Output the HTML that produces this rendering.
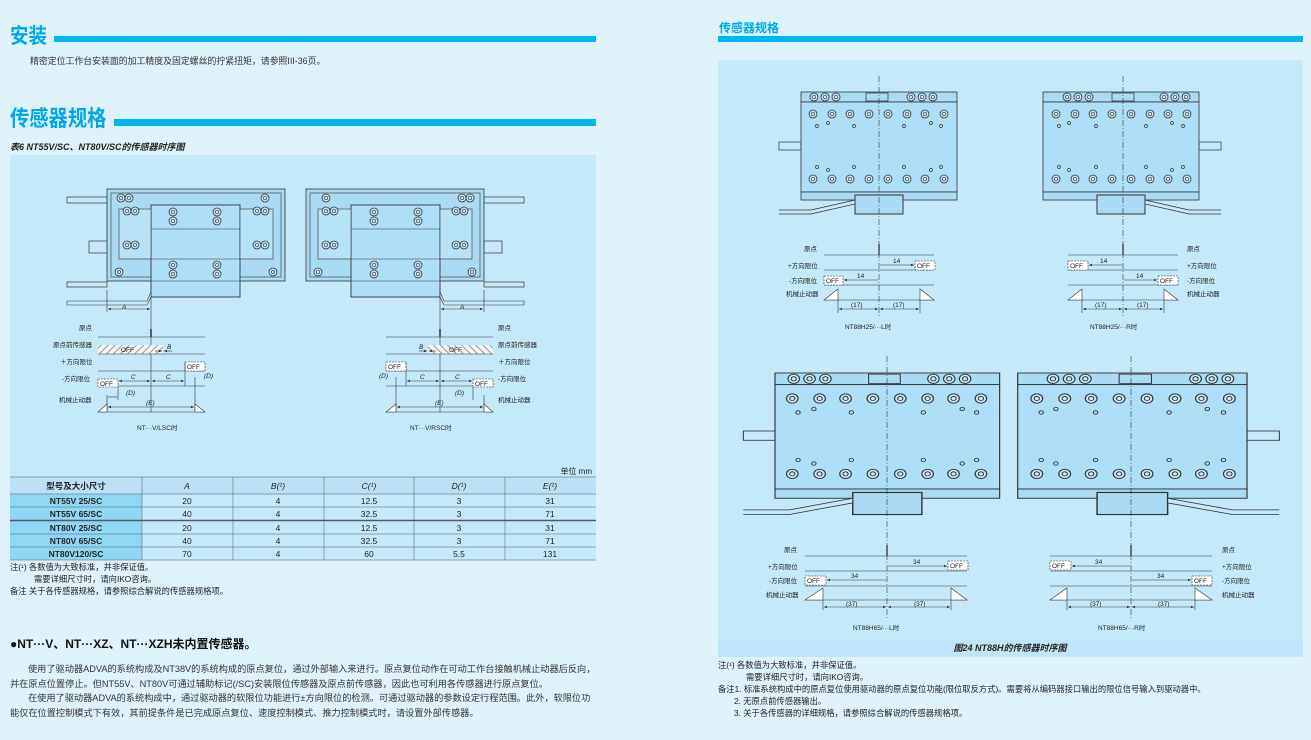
<!DOCTYPE html>
<html><head><meta charset="utf-8">
<style>
html,body{margin:0;padding:0;background:#dff2fa;}
body{width:1311px;height:740px;overflow:hidden;position:relative;font-family:"Liberation Sans","Noto Sans CJK SC",sans-serif;color:#222;}
svg{position:absolute;left:0;top:0;}
text{font-family:"Liberation Sans","Noto Sans CJK SC",sans-serif;}
</style></head><body>
<svg width="1311" height="740" viewBox="0 0 1311 740" xmlns="http://www.w3.org/2000/svg">
<defs>
<pattern id="hat" width="5" height="5" patternUnits="userSpaceOnUse" patternTransform="rotate(45)">
<rect width="5" height="5" fill="#f4f4f4"/><line x1="0" y1="0" x2="0" y2="5" stroke="#999" stroke-width="2"/></pattern>
<symbol id="hole" overflow="visible"><circle r="4" fill="#c6e8f8" stroke="#333" stroke-width="0.8"/><circle r="1.8" fill="none" stroke="#333" stroke-width="0.7"/></symbol>
<symbol id="mach" overflow="visible">
<rect x="-22" y="50" width="22" height="8" fill="#c6e8f8" stroke="#333" stroke-width="0.7"/>
<rect x="0" y="0" width="156" height="10" fill="#a9dcf3" stroke="#333" stroke-width="0.8"/>
<rect x="0" y="10" width="156" height="90" fill="#ade0f6" stroke="#333" stroke-width="0.8"/>
<rect x="0" y="100" width="156" height="8" fill="#a9dcf3" stroke="#333" stroke-width="0.8"/>
<rect x="54" y="103" width="48" height="19" fill="#a9dcf3" stroke="#333" stroke-width="1"/>
<path d="M-22 118 L10 118 L54 108 L54 112 L10 122 L-22 122" fill="#c6e8f8" stroke="#333" stroke-width="0.7"/>
<g><use href="#hole" x="13" y="5"/><use href="#hole" x="24" y="5"/><use href="#hole" x="35" y="5"/><use href="#hole" x="110" y="5"/><use href="#hole" x="121" y="5"/><use href="#hole" x="132" y="5"/></g>
<rect x="65" y="1" width="22" height="8" fill="none" stroke="#333" stroke-width="0.7"/>
<g><use href="#hole" x="12" y="22"/><use href="#hole" x="31" y="22"/><use href="#hole" x="49" y="22"/><use href="#hole" x="68" y="22"/><use href="#hole" x="87" y="22"/><use href="#hole" x="106" y="22"/><use href="#hole" x="124" y="22"/><use href="#hole" x="143" y="22"/>
<use href="#hole" x="12" y="87"/><use href="#hole" x="31" y="87"/><use href="#hole" x="49" y="87"/><use href="#hole" x="68" y="87"/><use href="#hole" x="87" y="87"/><use href="#hole" x="106" y="87"/><use href="#hole" x="124" y="87"/><use href="#hole" x="143" y="87"/></g>
<g fill="none" stroke="#333" stroke-width="0.7"><circle cx="16" cy="34" r="1.5"/><circle cx="27" cy="31" r="1.5"/><circle cx="53" cy="34" r="1.5"/><circle cx="103" cy="34" r="1.5"/><circle cx="130" cy="31" r="1.5"/><circle cx="140" cy="34" r="1.5"/>
<circle cx="16" cy="75" r="1.5"/><circle cx="27" cy="78" r="1.5"/><circle cx="53" cy="75" r="1.5"/><circle cx="103" cy="75" r="1.5"/><circle cx="130" cy="78" r="1.5"/><circle cx="140" cy="75" r="1.5"/></g>
</symbol>
<symbol id="vmach" overflow="visible">
<rect x="-40" y="8" width="40" height="6" fill="#c6e8f8" stroke="#333" stroke-width="0.7"/>
<rect x="-40" y="93" width="40" height="5" fill="#c6e8f8" stroke="#333" stroke-width="0.7"/>
<rect x="-18" y="52" width="18" height="12" fill="#c6e8f8" stroke="#333" stroke-width="0.7"/>
<rect x="0" y="0" width="178" height="92" fill="#a9dcf3" stroke="#333" stroke-width="0.8"/>
<rect x="4" y="4" width="170" height="84" fill="none" stroke="#333" stroke-width="0.6"/>
<rect x="44" y="16" width="89" height="92" fill="#ade0f6" stroke="#333" stroke-width="0.9"/>
<line x1="44" y1="40" x2="133" y2="40" stroke="#333" stroke-width="0.6"/>
<line x1="44" y1="70" x2="133" y2="70" stroke="#333" stroke-width="0.6"/>
<line x1="44" y1="92" x2="133" y2="92" stroke="#333" stroke-width="0.6"/>
<rect x="12" y="20" width="32" height="50" fill="#b8e3f6" stroke="#333" stroke-width="0.6"/>
<rect x="133" y="20" width="33" height="50" fill="#b8e3f6" stroke="#333" stroke-width="0.6"/>
<g><use href="#hole" x="14" y="9"/><use href="#hole" x="22" y="9"/><use href="#hole" x="158" y="9"/><use href="#hole" x="20" y="22"/><use href="#hole" x="28" y="22"/><use href="#hole" x="150" y="22"/><use href="#hole" x="158" y="22"/>
<use href="#hole" x="20" y="56"/><use href="#hole" x="28" y="56"/><use href="#hole" x="150" y="56"/><use href="#hole" x="158" y="56"/><use href="#hole" x="12" y="83"/><use href="#hole" x="166" y="83"/>
<use href="#hole" x="66" y="23"/><use href="#hole" x="110" y="23"/><use href="#hole" x="66" y="32"/><use href="#hole" x="110" y="32"/><use href="#hole" x="66" y="76"/><use href="#hole" x="110" y="76"/><use href="#hole" x="66" y="85"/><use href="#hole" x="110" y="85"/></g>
<path d="M-40 112 L40 112 L44 103 L44 108 L40 116 L-40 116Z" fill="#c6e8f8" stroke="#333" stroke-width="0.6"/>
</symbol>
<marker id="ar" markerWidth="6" markerHeight="6" refX="5" refY="3" orient="auto-start-reverse"><path d="M0 1 L5 3 L0 5Z" fill="#333"/></marker>
</defs>

<!-- LEFT PAGE -->
<text x="10" y="43" font-size="18.5" font-weight="bold" fill="#00a9e6" transform="translate(0,-6.5) scale(1,1.15)">安装</text>
<rect x="54" y="36" width="542" height="6" fill="#00b7ee"/>
<text x="30" y="64" font-size="8.9" fill="#333">精密定位工作台安装面的加工精度及固定螺丝的拧紧扭矩，请参照III-36页。</text>
<text x="10" y="126" font-size="19.3" font-weight="bold" fill="#00a9e6" transform="translate(0,-18.9) scale(1,1.15)">传感器规格</text>
<rect x="114" y="119" width="482" height="7" fill="#00b7ee"/>
<text x="10" y="150" font-size="9" font-weight="bold" font-style="italic" fill="#222">表6 NT55V/SC、NT80V/SC的传感器时序图</text>
<rect x="10" y="155" width="586" height="405" fill="#c6e9f9"/>

<!-- left diagram 1 -->
<use href="#vmach" x="107" y="189"/>
<g stroke="#333" stroke-width="0.6" fill="none">
<line x1="151" y1="297" x2="151" y2="412"/>
<line x1="107" y1="290" x2="107" y2="312"/>
<line x1="108" y1="309" x2="150" y2="309" marker-start="url(#ar)" marker-end="url(#ar)"/>
<line x1="98" y1="337" x2="205" y2="337"/><line x1="151" y1="329" x2="151" y2="337" stroke-width="1.5"/>
<rect x="98" y="345" width="65" height="9" fill="url(#hat)" stroke="none"/>
<line x1="98" y1="354" x2="205" y2="354"/>
<line x1="155" y1="351" x2="162" y2="351" marker-end="url(#ar)"/><line x1="172" y1="351" x2="164" y2="351" marker-end="url(#ar)"/>
<line x1="98" y1="371" x2="205" y2="371"/><rect x="185" y="362" width="20" height="9" fill="#fff" stroke-dasharray="2 1"/>
<line x1="98" y1="386" x2="205" y2="386"/><rect x="98" y="379" width="20" height="8" fill="#fff" stroke-dasharray="2 1"/>
<line x1="185" y1="362" x2="185" y2="386"/><line x1="195" y1="377" x2="195" y2="412"/>
<line x1="119" y1="381" x2="150" y2="381" marker-start="url(#ar)" marker-end="url(#ar)"/>
<line x1="152" y1="381" x2="184" y2="381" marker-start="url(#ar)" marker-end="url(#ar)"/>
<line x1="118" y1="387" x2="118" y2="400"/><line x1="107" y1="395" x2="107" y2="412"/>
<line x1="108" y1="397" x2="117" y2="397"/>
<line x1="98" y1="412" x2="205" y2="412"/>
<path d="M98 412 L107 404 L107 412Z" fill="#fff"/><path d="M205 412 L195 404 L195 412Z" fill="#fff"/>
<line x1="108" y1="407" x2="194" y2="407" marker-start="url(#ar)" marker-end="url(#ar)"/>
</g>
<g font-size="6.5" fill="#222">
<text x="122" y="309" font-style="italic">A</text>
<text x="79" y="330">原点</text><text x="53" y="347">原点前传感器</text><text x="60" y="364">＋方向限位</text><text x="62" y="381">-方向限位</text><text x="59" y="402">机械止动器</text>
<text x="121" y="352">OFF</text><text x="167" y="349" font-style="italic">B</text><text x="187" y="369">OFF</text><text x="100" y="386">OFF</text>
<text x="131" y="379" font-style="italic">C</text><text x="166" y="379" font-style="italic">C</text><text x="204" y="378" font-style="italic">(D)</text><text x="126" y="395" font-style="italic">(D)</text><text x="146" y="405" font-style="italic">(E)</text>
<text x="137" y="430">NT···V/LSC时</text>
</g>

<!-- left diagram 2 (mirrored) -->
<g transform="translate(789,0) scale(-1,1)"><use href="#vmach" x="305" y="189"/>
<g stroke="#333" stroke-width="0.6" fill="none">
<line x1="349" y1="297" x2="349" y2="412"/>
<line x1="305" y1="290" x2="305" y2="312"/>
<line x1="306" y1="309" x2="348" y2="309" marker-start="url(#ar)" marker-end="url(#ar)"/>
<line x1="296" y1="337" x2="403" y2="337"/><line x1="349" y1="329" x2="349" y2="337" stroke-width="1.5"/>
<rect x="296" y="345" width="65" height="9" fill="url(#hat)" stroke="none"/>
<line x1="296" y1="354" x2="403" y2="354"/>
<line x1="353" y1="351" x2="360" y2="351" marker-end="url(#ar)"/><line x1="370" y1="351" x2="362" y2="351" marker-end="url(#ar)"/>
<line x1="296" y1="371" x2="403" y2="371"/>
<line x1="296" y1="386" x2="403" y2="386"/>
<line x1="383" y1="362" x2="383" y2="386"/><line x1="393" y1="377" x2="393" y2="412"/>
<line x1="317" y1="381" x2="348" y2="381" marker-start="url(#ar)" marker-end="url(#ar)"/>
<line x1="350" y1="381" x2="382" y2="381" marker-start="url(#ar)" marker-end="url(#ar)"/>
<line x1="316" y1="387" x2="316" y2="400"/><line x1="305" y1="395" x2="305" y2="412"/>
<line x1="296" y1="412" x2="403" y2="412"/>
<path d="M296 412 L305 404 L305 412Z" fill="#fff"/><path d="M403 412 L393 404 L393 412Z" fill="#fff"/>
<line x1="306" y1="407" x2="392" y2="407" marker-start="url(#ar)" marker-end="url(#ar)"/>
</g></g>
<g stroke="#333" stroke-width="0.6" fill="#fff" stroke-dasharray="2 1"><rect x="386" y="362" width="20" height="9"/><rect x="473" y="379" width="20" height="8"/></g>
<g font-size="6.5" fill="#222">
<text x="460" y="309" font-style="italic">A</text>
<text x="498" y="330">原点</text><text x="498" y="347">原点前传感器</text><text x="498" y="364">＋方向限位</text><text x="498" y="381">-方向限位</text><text x="498" y="402">机械止动器</text>
<text x="449" y="352">OFF</text><text x="419" y="349" font-style="italic">B</text><text x="388" y="369">OFF</text><text x="475" y="386">OFF</text>
<text x="455" y="379" font-style="italic">C</text><text x="420" y="379" font-style="italic">C</text><text x="379" y="378" font-style="italic">(D)</text><text x="455" y="395" font-style="italic">(D)</text><text x="435" y="405" font-style="italic">(E)</text>
<text x="410" y="430">NT···V/RSC时</text>
</g>

<!-- table -->
<text x="592" y="474" font-size="8" text-anchor="end" fill="#222">单位 mm</text>
<rect x="10" y="477" width="586" height="17" fill="#bde0f4"/>
<rect x="10" y="494" width="132" height="66" fill="#8fd8f5"/>
<g stroke="#556" stroke-width="0.5">
<line x1="10" y1="477" x2="596" y2="477"/><line x1="10" y1="494" x2="596" y2="494"/><line x1="10" y1="507" x2="596" y2="507"/><line x1="10" y1="520.5" x2="596" y2="520.5" stroke-width="1.5"/><line x1="10" y1="534" x2="596" y2="534"/><line x1="10" y1="547" x2="596" y2="547"/><line x1="10" y1="560" x2="596" y2="560"/>
<line x1="142" y1="477" x2="142" y2="560"/><line x1="233" y1="477" x2="233" y2="560"/><line x1="324" y1="477" x2="324" y2="560"/><line x1="414" y1="477" x2="414" y2="560"/><line x1="505" y1="477" x2="505" y2="560"/>
</g>
<g font-size="8.5" text-anchor="middle" fill="#222">
<text x="76" y="489" font-weight="bold">型号及大小尺寸</text><text x="187" y="489" font-style="italic" font-family="Liberation Serif,serif">A</text><text x="278" y="489" font-style="italic" font-family="Liberation Serif,serif">B(¹)</text><text x="369" y="489" font-style="italic" font-family="Liberation Serif,serif">C(¹)</text><text x="459" y="489" font-style="italic" font-family="Liberation Serif,serif">D(¹)</text><text x="550" y="489" font-style="italic" font-family="Liberation Serif,serif">E(¹)</text>
<g font-weight="bold"><text x="76" y="504">NT55V  25/SC</text><text x="76" y="517">NT55V  65/SC</text><text x="76" y="531">NT80V  25/SC</text><text x="76" y="544">NT80V  65/SC</text><text x="76" y="557">NT80V120/SC</text></g>
<text x="187" y="504">20</text><text x="278" y="504">4</text><text x="369" y="504">12.5</text><text x="459" y="504">3</text><text x="550" y="504">31</text>
<text x="187" y="517">40</text><text x="278" y="517">4</text><text x="369" y="517">32.5</text><text x="459" y="517">3</text><text x="550" y="517">71</text>
<text x="187" y="531">20</text><text x="278" y="531">4</text><text x="369" y="531">12.5</text><text x="459" y="531">3</text><text x="550" y="531">31</text>
<text x="187" y="544">40</text><text x="278" y="544">4</text><text x="369" y="544">32.5</text><text x="459" y="544">3</text><text x="550" y="544">71</text>
<text x="187" y="557">70</text><text x="278" y="557">4</text><text x="369" y="557">60</text><text x="459" y="557">5.5</text><text x="550" y="557">131</text>
</g>
<g font-size="8.3" fill="#222">
<text x="10" y="570">注(¹)   各数值为大致标准，并非保证值。</text>
<text x="34" y="582">需要详细尺寸时，请向IKO咨询。</text>
<text x="10" y="594">备注   关于各传感器规格，请参照综合解说的传感器规格项。</text>
</g>
<text x="10" y="648" font-size="12" font-weight="bold" fill="#111">●NT···V、NT···XZ、NT···XZH未内置传感器。</text>
<g font-size="9.2" fill="#333">
<text x="28" y="672">使用了驱动器ADVA的系统构成及NT38V的系统构成的原点复位，通过外部输入来进行。原点复位动作在可动工作台接触机械止动器后反向，</text>
<text x="10" y="687">并在原点位置停止。但NT55V、NT80V可通过辅助标记(/SC)安装限位传感器及原点前传感器，因此也可利用各传感器进行原点复位。</text>
<text x="28" y="701">在使用了驱动器ADVA的系统构成中，通过驱动器的软限位功能进行±方向限位的检测。可通过驱动器的参数设定行程范围。此外，软限位功</text>
<text x="10" y="716">能仅在位置控制模式下有效，其前提条件是已完成原点复位、速度控制模式、推力控制模式时，请设置外部传感器。</text>
</g>

<!-- RIGHT PAGE -->
<text x="719" y="32" font-size="12" font-weight="bold" fill="#00a9e6">传感器规格</text>
<rect x="718" y="36" width="585" height="6" fill="#00b7ee"/>
<rect x="718" y="60" width="585" height="597" fill="#c6e9f9"/>
<rect x="718" y="640" width="585" height="17" fill="#bfe6f8"/>
<text x="1010" y="651" font-size="9" font-weight="bold" font-style="italic" text-anchor="middle" fill="#222">图24  NT88H的传感器时序图</text>

<use href="#mach" x="801" y="92"/>
<g transform="translate(2244,0) scale(-1,1)"><use href="#mach" x="1045" y="92"/></g>
<g transform="translate(775,373) scale(1.44,1.16)"><use href="#mach" x="0" y="0"/></g>
<g transform="translate(1247,373) scale(-1.47,1.16)"><use href="#mach" x="0" y="0"/></g>

<g stroke="#333" stroke-width="0.6" stroke-dasharray="6 2 1 2" fill="none">
<line x1="879" y1="76" x2="879" y2="318"/><line x1="1123" y1="76" x2="1123" y2="318"/>
<line x1="887" y1="356" x2="887" y2="618"/><line x1="1131" y1="356" x2="1131" y2="618"/>
</g>

<!-- timing TL -->
<g stroke="#333" stroke-width="0.6" fill="none">
<line x1="824" y1="255" x2="934" y2="255"/><line x1="879" y1="244" x2="879" y2="255" stroke-width="1.3"/>
<line x1="824" y1="270" x2="934" y2="270"/><line x1="824" y1="285" x2="934" y2="285"/><line x1="824" y1="300" x2="934" y2="300"/>
<line x1="880" y1="265" x2="914" y2="265" marker-end="url(#ar)"/><line x1="844" y1="280" x2="878" y2="280" marker-start="url(#ar)"/>
<path d="M824 300 L838 289 L838 300Z" fill="#fff"/><path d="M934 300 L920 289 L920 300Z" fill="#fff"/>
<line x1="838" y1="300" x2="838" y2="313"/><line x1="920" y1="300" x2="920" y2="313"/>
<line x1="839" y1="309" x2="878" y2="309" marker-start="url(#ar)" marker-end="url(#ar)"/><line x1="880" y1="309" x2="919" y2="309" marker-start="url(#ar)" marker-end="url(#ar)"/>
<rect x="915" y="261" width="20" height="9" fill="#fff" stroke-dasharray="2 1"/><rect x="824" y="276" width="19" height="9" fill="#fff" stroke-dasharray="2 1"/>
</g>
<g font-size="6.5" fill="#222">
<text x="804" y="251">原点</text><text x="788" y="268">+方向限位</text><text x="789" y="283">-方向限位</text><text x="786" y="296">机械止动器</text>
<text x="917" y="268">OFF</text><text x="826" y="283">OFF</text><text x="893" y="263">14</text><text x="857" y="278">14</text>
<text x="851" y="307">(17)</text><text x="893" y="307">(17)</text><text x="845" y="329">NT88H25/···L时</text>
</g>
<!-- timing TR -->
<g stroke="#333" stroke-width="0.6" fill="none">
<line x1="1068" y1="255" x2="1178" y2="255"/><line x1="1123" y1="244" x2="1123" y2="255" stroke-width="1.3"/>
<line x1="1068" y1="270" x2="1178" y2="270"/><line x1="1068" y1="285" x2="1178" y2="285"/><line x1="1068" y1="300" x2="1178" y2="300"/>
<line x1="1089" y1="265" x2="1122" y2="265" marker-start="url(#ar)"/><line x1="1124" y1="280" x2="1157" y2="280" marker-end="url(#ar)"/>
<path d="M1068 300 L1082 289 L1082 300Z" fill="#fff"/><path d="M1178 300 L1164 289 L1164 300Z" fill="#fff"/>
<line x1="1082" y1="300" x2="1082" y2="313"/><line x1="1164" y1="300" x2="1164" y2="313"/>
<line x1="1083" y1="309" x2="1122" y2="309" marker-start="url(#ar)" marker-end="url(#ar)"/><line x1="1124" y1="309" x2="1163" y2="309" marker-start="url(#ar)" marker-end="url(#ar)"/>
<rect x="1068" y="261" width="20" height="9" fill="#fff" stroke-dasharray="2 1"/><rect x="1158" y="276" width="20" height="9" fill="#fff" stroke-dasharray="2 1"/>
</g>
<g font-size="6.5" fill="#222">
<text x="1187" y="251">原点</text><text x="1187" y="268">+方向限位</text><text x="1187" y="283">-方向限位</text><text x="1187" y="296">机械止动器</text>
<text x="1070" y="268">OFF</text><text x="1160" y="283">OFF</text><text x="1100" y="263">14</text><text x="1136" y="278">14</text>
<text x="1095" y="307">(17)</text><text x="1137" y="307">(17)</text><text x="1090" y="329">NT88H25/···R时</text>
</g>
<!-- timing BL -->
<g stroke="#333" stroke-width="0.6" fill="none">
<line x1="805" y1="556" x2="967" y2="556"/><line x1="887" y1="545" x2="887" y2="556" stroke-width="1.3"/>
<line x1="805" y1="571" x2="967" y2="571"/><line x1="805" y1="586" x2="967" y2="586"/><line x1="805" y1="600" x2="967" y2="600"/>
<line x1="888" y1="566" x2="947" y2="566" marker-end="url(#ar)"/><line x1="827" y1="580" x2="886" y2="580" marker-start="url(#ar)"/>
<path d="M805 600 L823 588 L823 600Z" fill="#fff"/><path d="M967 600 L951 588 L951 600Z" fill="#fff"/>
<line x1="823" y1="600" x2="823" y2="610"/><line x1="951" y1="600" x2="951" y2="610"/>
<line x1="824" y1="607" x2="886" y2="607" marker-start="url(#ar)" marker-end="url(#ar)"/><line x1="888" y1="607" x2="950" y2="607" marker-start="url(#ar)" marker-end="url(#ar)"/>
<rect x="948" y="561" width="20" height="9" fill="#fff" stroke-dasharray="2 1"/><rect x="805" y="576" width="21" height="9" fill="#fff" stroke-dasharray="2 1"/>
</g>
<g font-size="6.5" fill="#222">
<text x="784" y="552">原点</text><text x="768" y="569">+方向限位</text><text x="769" y="583">-方向限位</text><text x="766" y="597">机械止动器</text>
<text x="950" y="568">OFF</text><text x="807" y="583">OFF</text><text x="913" y="564">34</text><text x="851" y="578">34</text>
<text x="846" y="606">(37)</text><text x="914" y="606">(37)</text><text x="853" y="630">NT88H65/···L时</text>
</g>
<!-- timing BR -->
<g stroke="#333" stroke-width="0.6" fill="none">
<line x1="1050" y1="556" x2="1212" y2="556"/><line x1="1131" y1="545" x2="1131" y2="556" stroke-width="1.3"/>
<line x1="1050" y1="571" x2="1212" y2="571"/><line x1="1050" y1="586" x2="1212" y2="586"/><line x1="1050" y1="600" x2="1212" y2="600"/>
<line x1="1072" y1="566" x2="1130" y2="566" marker-start="url(#ar)"/><line x1="1132" y1="580" x2="1191" y2="580" marker-end="url(#ar)"/>
<path d="M1050 600 L1067 588 L1067 600Z" fill="#fff"/><path d="M1212 600 L1195 588 L1195 600Z" fill="#fff"/>
<line x1="1067" y1="600" x2="1067" y2="610"/><line x1="1195" y1="600" x2="1195" y2="610"/>
<line x1="1068" y1="607" x2="1130" y2="607" marker-start="url(#ar)" marker-end="url(#ar)"/><line x1="1132" y1="607" x2="1194" y2="607" marker-start="url(#ar)" marker-end="url(#ar)"/>
<rect x="1050" y="561" width="21" height="9" fill="#fff" stroke-dasharray="2 1"/><rect x="1192" y="576" width="20" height="9" fill="#fff" stroke-dasharray="2 1"/>
</g>
<g font-size="6.5" fill="#222">
<text x="1222" y="552">原点</text><text x="1222" y="569">+方向限位</text><text x="1222" y="583">-方向限位</text><text x="1222" y="597">机械止动器</text>
<text x="1052" y="568">OFF</text><text x="1194" y="583">OFF</text><text x="1095" y="564">34</text><text x="1157" y="578">34</text>
<text x="1090" y="606">(37)</text><text x="1158" y="606">(37)</text><text x="1098" y="630">NT88H65/···R时</text>
</g>

<g font-size="8.3" fill="#222">
<text x="718" y="668">注(¹)    各数值为大致标准，并非保证值。</text>
<text x="746" y="680">需要详细尺寸时，请向IKO咨询。</text>
<text x="718" y="692">备注1. 标准系统构成中的原点复位使用驱动器的原点复位功能(限位取反方式)。需要将从编码器接口输出的限位信号输入到驱动器中。</text>
<text x="734" y="704">2. 无原点前传感器输出。</text>
<text x="734" y="716">3. 关于各传感器的详细规格，请参照综合解说的传感器规格项。</text>
</g>
</svg>
</body></html>
